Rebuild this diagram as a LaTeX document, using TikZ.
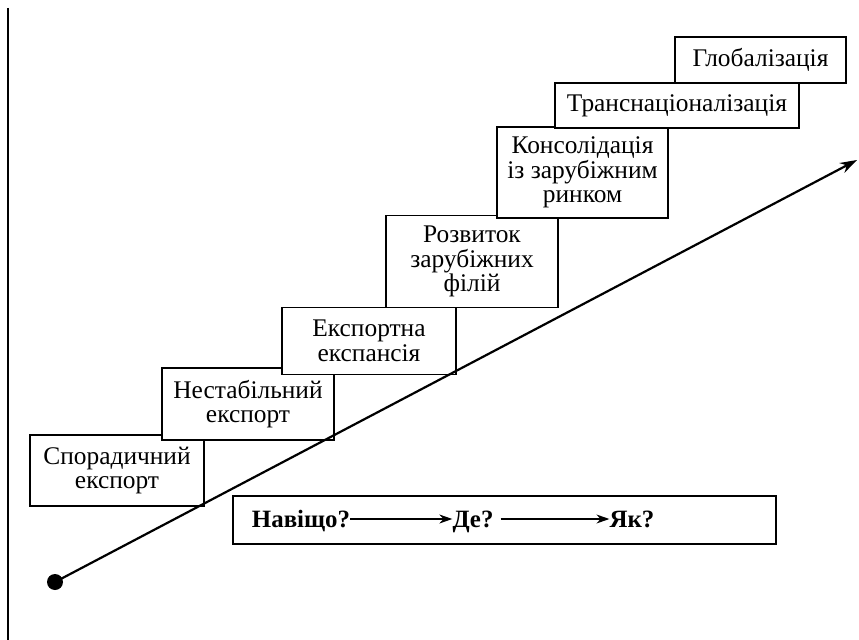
\documentclass[tikz,border=0pt]{standalone}
\usepackage{fontspec}
\setmainfont{Liberation Serif}
\usetikzlibrary{arrows.meta}
\begin{document}
\begin{tikzpicture}[x=1bp,y=-1bp,
  stage/.style={draw, line width=1.6bp, fill=white, align=center, inner sep=0pt,
    font=\fontsize{25.5}{24.5}\selectfont},
  question/.style={inner sep=0pt, text height=17bp, text depth=5bp,
    font=\bfseries\fontsize{25}{26}\selectfont},
  flow/.style={line width=1.3bp, -{Stealth[length=13bp,width=9bp]}}]
\useasboundingbox (0,0) rectangle (859,640);

% left axis
\draw[line width=1.8bp] (8,8) -- (8,640);

% stages, lowest first so each later box covers the corner of the previous one
\node[stage, minimum width=174bp, minimum height=71bp] (s1) at (117,470.5) {Спорадичний\\експорт};
\node[stage, minimum width=172bp, minimum height=72bp] (s2) at (248,404) {Нестабільний\\експорт};
\node[stage, minimum width=174bp, minimum height=67bp] (s3) at (369,341) {Експортна\\експансія};
\node[stage, minimum width=172bp, minimum height=92bp] (s4) at (472,261.5) {Розвиток\\зарубіжних\\філій};
\node[stage, minimum width=171bp, minimum height=91bp] (s5) at (582.5,172.5) {Консолідація\\із зарубіжним\\ринком};
\node[stage, minimum width=244bp, minimum height=45bp] (s6) at (677,105.5) {Транснаціоналізація};
\node[stage, minimum width=171bp, minimum height=46bp] (s7) at (760.5,60) {Глобалізація};

% bottom box with the sequence of questions
\node[draw, line width=1.8bp, minimum width=543bp, minimum height=48bp] (qbox) at (504.5,520) {};
\node[question] (q1) at (301,521) {Навіщо?};
\node[question] (q2) at (473,521) {Де?};
\node[question] (q3) at (632,521) {Як?};
\draw[flow] ([yshift=2bp]q1.east) -- ([yshift=2bp]q2.west);
\draw[flow] ([xshift=7bp,yshift=2bp]q2.east) -- ([yshift=2bp]q3.west);

% growth line
\node[circle, fill=black, inner sep=0pt, minimum size=16bp] (start) at (55,582) {};
\coordinate (finish) at (857,160);
\draw[line width=2.2bp, -{Stealth[length=17bp,width=11bp]}] (start.center) -- (finish);
\end{tikzpicture}
\end{document}
